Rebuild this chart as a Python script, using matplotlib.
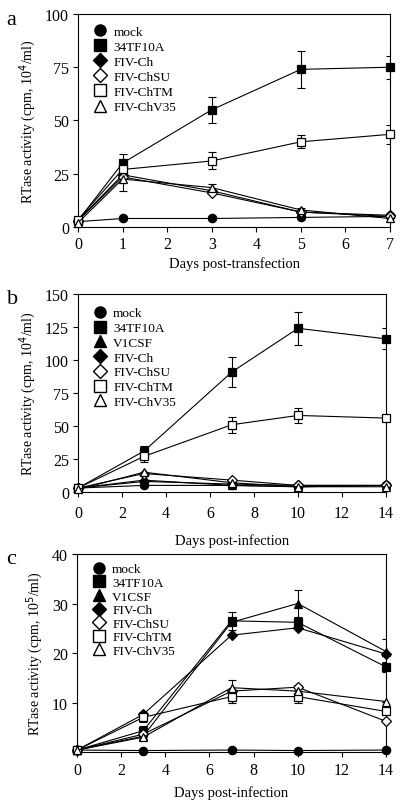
import matplotlib
matplotlib.use("Agg")
import matplotlib.pyplot as plt
import numpy as np
from matplotlib.lines import Line2D

plt.rcParams["font.family"] = ["Liberation Serif", "DejaVu Serif"]

# ---- panel a: days post-transfection ----
days_a = [0, 1, 3, 5, 7]
a_mock = [2.5, 4, 4, 4.5, 5]
a_34tf = [3, 30, 55, 74, 75]
a_34tf_err = [0, 4.5, 6, 8.7, 5.5]
a_ch = [3, 24.5, 17, 7, 5.5]
a_chsu = [3, 23.5, 16, 7, 5]
a_chtm = [3.5, 27, 31, 40, 43.5]
a_chtm_err = [0, 0, 4, 3, 4.5]
a_chv35 = [2, 22.5, 18.5, 8, 4]
a_chv35_err = [0, 5.5, 1.5, 1, 0]

# ---- panel b: days post-infection ----
days_b = [0, 3, 7, 10, 14]
b_mock = [3, 5, 5, 4, 5]
b_34tf = [3, 31, 91, 124, 116]
b_34tf_err = [0, 4, 11.5, 12.5, 8]
b_v1csf = [3, 9, 5, 4, 5]
b_ch = [3, 8, 6, 5, 5]
b_chsu = [3, 14, 9, 5, 5]
b_chtm = [3, 27, 51, 58, 56]
b_chtm_err = [0, 4, 6, 6, 2]
b_chv35 = [2, 15, 7, 4, 4]

# ---- panel c: days post-infection ----
days_c = [0, 3, 7, 10, 14]
c_mock = [0.4, 0.3, 0.4, 0.3, 0.4]
c_34tf = [0.4, 4.3, 26.5, 26.2, 17.2]
c_34tf_err = [0, 1.0, 1.8, 0.5, 1.0]
c_v1csf = [0.4, 3.2, 26.2, 30, 20.3]
c_v1csf_err = [0, 0, 0, 2.7, 2.5]
c_ch = [0.4, 7.6, 23.6, 25.1, 19.8]
c_chsu = [0.4, 3.6, 12.3, 13.1, 6.2]
c_chtm = [0.4, 7.0, 11.2, 11.2, 8.2]
c_chtm_err = [0, 1.0, 1.2, 1.2, 0]
c_chv35 = [0.4, 3.0, 13.0, 12.3, 10.2]
c_chv35_err = [0, 0, 1.5, 1.3, 0]

STYLE = {
    "mock": ("o", "black"),
    "34TF10A": ("s", "black"),
    "V1CSF": ("^", "black"),
    "FIV-Ch": ("D", "black"),
    "FIV-ChSU": ("D", "white"),
    "FIV-ChTM": ("s", "white"),
    "FIV-ChV35": ("^", "white"),
}


def draw(ax, days, series, errs, letter, xlabel, ylabel, xticks, yticks, ylim,
         legend_gap, legend_y, xpad):
    for name, vals in series:
        m, fc = STYLE[name]
        ms = 5 if m == "D" else 6
        if name in errs:
            ax.errorbar(days, vals, yerr=errs[name], fmt="none", ecolor="black",
                        elinewidth=0.8, capsize=3, capthick=0.8, zorder=2)
        ax.plot(days, vals, color="black", lw=0.8, marker=m, ms=ms,
                mfc=fc, mec="black", mew=0.9, zorder=3, clip_on=False)
    handles = []
    for name, _ in series:
        m, fc = STYLE[name]
        handles.append(Line2D([], [], ls="none", marker=m, ms=8 if m != "D" else 7,
                              mfc=fc, mec="black", mew=1.0))
    ax.legend(handles, [n for n, _ in series], loc="upper left", frameon=False,
              fontsize=9.5, handlelength=1.0, handletextpad=0.5,
              labelspacing=legend_gap, borderaxespad=0.3,
              bbox_to_anchor=(0.02, legend_y))
    ax.set_xlim(days[0], days[-1])
    ax.set_ylim(*ylim)
    ax.set_xticks(xticks)
    ax.set_yticks(yticks)
    ax.tick_params(direction="out", length=3.5, width=0.8, labelsize=11.5, pad=3)
    ax.tick_params(axis="x", pad=3 + xpad / 2)
    for s in ax.spines.values():
        s.set_linewidth(0.8)
    ax.set_xlabel(xlabel, fontsize=10.5, labelpad=3 + xpad)
    ax.set_ylabel(ylabel, fontsize=10, labelpad=5)
    ax.text(-0.23, 0.975, letter, transform=ax.transAxes, fontsize=16,
            ha="left", va="center")


fig = plt.figure(figsize=(4.0, 8.04), dpi=100)
ax_a = fig.add_axes([0.195, 0.7164, 0.78, 0.265])
ax_b = fig.add_axes([0.195, 0.3868, 0.77, 0.2463])
ax_c = fig.add_axes([0.1925, 0.0634, 0.7725, 0.2463])

draw(ax_a, days_a,
     [("mock", a_mock), ("34TF10A", a_34tf), ("FIV-Ch", a_ch), ("FIV-ChSU", a_chsu),
      ("FIV-ChTM", a_chtm), ("FIV-ChV35", a_chv35)],
     {"34TF10A": a_34tf_err, "FIV-ChTM": a_chtm_err, "FIV-ChV35": a_chv35_err},
     "a", "Days post-transfection", "RTase activity (cpm, 10$^4$/ml)",
     range(0, 8), [0, 25, 50, 75, 100], (0, 100), 0.22, 0.99, 0)

draw(ax_b, days_b,
     [("mock", b_mock), ("34TF10A", b_34tf), ("V1CSF", b_v1csf), ("FIV-Ch", b_ch),
      ("FIV-ChSU", b_chsu), ("FIV-ChTM", b_chtm), ("FIV-ChV35", b_chv35)],
     {"34TF10A": b_34tf_err, "FIV-ChTM": b_chtm_err},
     "b", "Days post-infection", "RTase activity (cpm, 10$^4$/ml)",
     range(0, 15, 2), [0, 25, 50, 75, 100, 125, 150], (0, 150), 0.19, 0.98, 6)

draw(ax_c, days_c,
     [("mock", c_mock), ("34TF10A", c_34tf), ("V1CSF", c_v1csf), ("FIV-Ch", c_ch),
      ("FIV-ChSU", c_chsu), ("FIV-ChTM", c_chtm), ("FIV-ChV35", c_chv35)],
     {"34TF10A": c_34tf_err, "V1CSF": c_v1csf_err, "FIV-ChTM": c_chtm_err,
      "FIV-ChV35": c_chv35_err},
     "c", "Days post-infection", "RTase activity (cpm, 10$^5$/ml)",
     range(0, 15, 2), [0, 10, 20, 30, 40], (0, 40), 0.1, 1.0, 2)
ax_c.set_yticklabels(["", "10", "20", "30", "40"])

fig.savefig("out.png", dpi=100)
